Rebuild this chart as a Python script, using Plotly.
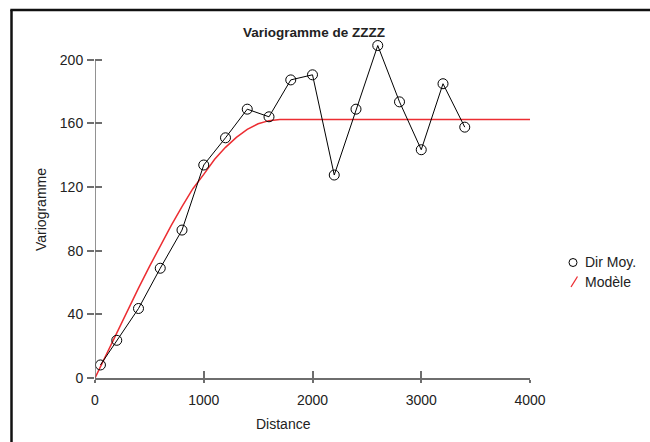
import plotly.graph_objects as go

# ---- data ----
distance = [50, 200, 400, 600, 800, 1000, 1200, 1400, 1600, 1800, 2000,
            2200, 2400, 2600, 2800, 3000, 3200, 3400]
variogram = [8.2, 23.7, 43.7, 69.0, 93.0, 133.9, 151.0, 169.0, 164.2, 187.4,
             190.6, 127.6, 169.0, 209.0, 173.6, 143.5, 185.0, 157.7]

model_distance = [0, 100, 200, 300, 400, 500, 600, 700, 800, 900, 1000, 1100,
                  1200, 1300, 1400, 1500, 1600, 1700, 4000]
model_value = [0, 14.3, 28.5, 42.6, 56.5, 70.0, 83.2, 95.8, 107.8, 119.0, 128.0,
               137.5, 145.0, 151.3, 156.3, 159.8, 161.8, 162.5, 162.5]

x_ticks = [0, 1000, 2000, 3000, 4000]
y_ticks = [0, 40, 80, 120, 160, 200]

title_text = "Variogramme de ZZZZ"
x_title = "Distance"
y_title = "Variogramme"
legend_names = ["Dir Moy.", "Modèle"]

# ---- layout geometry (pixels) ----
W, H = 650, 442
L, R, T, B = 95, 120, 36, 64
PW, PH = W - L - R, H - T - B
X_RANGE = [0, 4000]
Y_RANGE = [0, 215]


def px(xp):
    return (xp - L) / PW


def py(yp):
    return (H - B - yp) / PH


FONT = "Liberation Sans, Arial, sans-serif"
AXC = "#6e6e6e"
RED = "rgb(236,45,50)"
TXT = "#222"

fig = go.Figure()
fig.add_trace(go.Scatter(x=model_distance, y=model_value, mode="lines",
                         line=dict(color=RED, width=1.5), name=legend_names[1],
                         showlegend=False, hoverinfo="skip"))
fig.add_trace(go.Scatter(x=distance, y=variogram, mode="lines+markers",
                         line=dict(color="black", width=1),
                         marker=dict(symbol="circle-open", size=10, color="black",
                                     line=dict(width=1, color="black")),
                         name=legend_names[0], showlegend=False, cliponaxis=False))
# empty trace so the overlay axes (inner half of crossing ticks) are drawn
fig.add_trace(go.Scatter(x=[], y=[], xaxis="x2", yaxis="y2", showlegend=False,
                         hoverinfo="skip"))

shapes = [
    # y axis line from 0 to 200
    dict(type="line", xref="x", yref="y", x0=0, x1=0, y0=0, y1=200,
         line=dict(color=AXC, width=1.5)),
    # outer frame: left and top edges
    dict(type="line", xref="paper", yref="paper", x0=px(11.5), x1=px(11.5),
         y0=py(442), y1=py(10), line=dict(color="#111", width=2.5), layer="above"),
    dict(type="line", xref="paper", yref="paper", x0=px(10.3), x1=px(650),
         y0=py(10), y1=py(10), line=dict(color="#111", width=2.5), layer="above"),
    # legend symbols
    dict(type="circle", xref="paper", yref="paper", x0=px(569), x1=px(577),
         y0=py(266.5), y1=py(258.5), line=dict(color="black", width=1)),
    dict(type="line", xref="paper", yref="paper", x0=px(571), x1=px(577.5),
         y0=py(287), y1=py(276.5), line=dict(color=RED, width=1.3)),
]

annotations = [
    dict(text=x_title, xref="paper", yref="paper", x=px(283), y=py(424),
         showarrow=False, xanchor="center", yanchor="middle",
         font=dict(family=FONT, size=14, color=TXT)),
    dict(text=y_title, xref="paper", yref="paper", x=px(41), y=py(210),
         showarrow=False, textangle=-90, xanchor="center", yanchor="middle",
         font=dict(family=FONT, size=14, color=TXT)),
    dict(text=legend_names[0], xref="paper", yref="paper", x=px(583), y=py(262),
         showarrow=False, xanchor="left", yanchor="middle",
         font=dict(family=FONT, size=14, color=TXT)),
    dict(text=legend_names[1], xref="paper", yref="paper", x=px(583), y=py(282),
         showarrow=False, xanchor="left", yanchor="middle",
         font=dict(family=FONT, size=14, color=TXT)),
]

fig.update_layout(
    width=W, height=H,
    margin=dict(l=L, r=R, t=T, b=B, pad=0),
    paper_bgcolor="white", plot_bgcolor="white",
    font=dict(family=FONT, size=14, color=TXT),
    title=dict(text="<b>" + title_text + "</b>", x=px(314), xref="paper",
               y=1 - 32 / H, yref="container", xanchor="center", yanchor="middle",
               font=dict(family=FONT, size=13.5, color=TXT)),
    shapes=shapes, annotations=annotations, showlegend=False,
    xaxis=dict(range=X_RANGE, tickvals=x_ticks, ticktext=[str(v) for v in x_ticks],
               showgrid=False, zeroline=False, showline=True, linecolor=AXC,
               linewidth=1.5, ticks="outside", ticklen=3, tickwidth=1.5,
               tickcolor=AXC, ticklabelstandoff=5,
               tickfont=dict(family=FONT, size=14, color=TXT)),
    yaxis=dict(range=Y_RANGE, tickvals=y_ticks, ticktext=[str(v) for v in y_ticks],
               showgrid=False, zeroline=False, showline=False,
               ticks="outside", ticklen=7, tickwidth=1.5, tickcolor=AXC,
               ticklabelstandoff=1,
               tickfont=dict(family=FONT, size=14, color=TXT)),
    xaxis2=dict(range=X_RANGE, overlaying="x", anchor="y2", side="bottom",
                tickvals=x_ticks, showticklabels=False, showgrid=False,
                zeroline=False, showline=False, ticks="inside", ticklen=7,
                tickwidth=1.5, tickcolor=AXC),
    yaxis2=dict(range=Y_RANGE, overlaying="y", anchor="x2", side="left",
                tickvals=y_ticks, showticklabels=False, showgrid=False,
                zeroline=False, showline=False, ticks="inside", ticklen=7,
                tickwidth=1.5, tickcolor=AXC),
)

fig.write_html(
    "out.html", config={"displayModeBar": False},
    post_script=("document.body.style.margin='0';document.body.style.padding='0';"
                 "document.body.style.overflow='hidden';"
                 "document.documentElement.style.overflow='hidden';"))
